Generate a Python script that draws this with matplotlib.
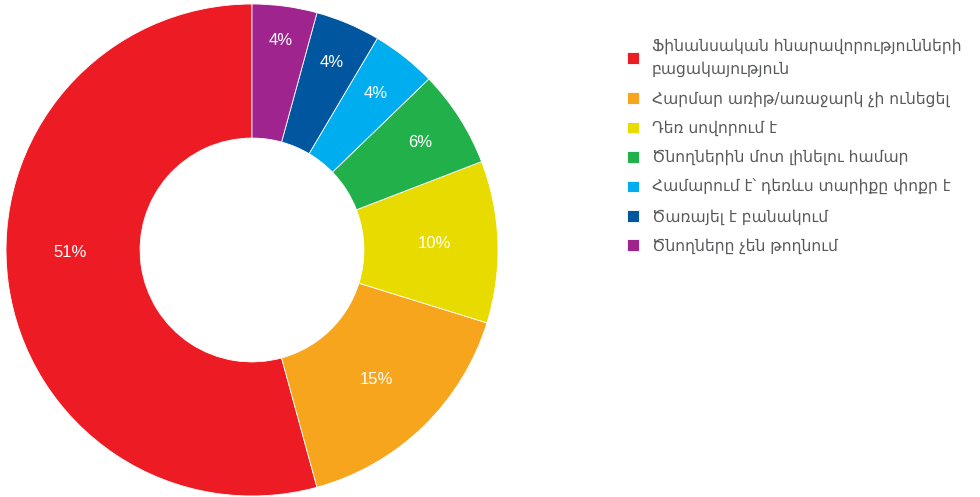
import numpy as np
import matplotlib.pyplot as plt

labels = ['Ֆինանսական հնարավորությունների\nբացակայություն',
          'Հարմար առիթ/առաջարկ չի ունեցել',
          'Դեռ սովորում է',
          'Ծնողներին մոտ լինելու համար',
          'Համարում է՝ դեռևս տարիքը փոքր է',
          'Ծառայել է բանակում',
          'Ծնողները չեն թողնում']
values = [51, 15, 10, 6, 4, 4, 4]
colors = ['#ED1C24', '#F7A51D', '#E8DB00', '#22B04B', '#00AEEF', '#0057A0', '#A0248E']

# label placement tweaks (radius in pie units, angle shift in degrees)
lab_r = [0.74, 0.73, 0.74, 0.81, 0.81, 0.83, 0.86]
lab_shift = [-7, 0, 0, 0, 0, 0, 0]

plt.rcParams['font.family'] = ['DejaVu Sans']

fig = plt.figure(figsize=(9.8, 4.97), dpi=100)
ax = fig.add_axes([6/980, 1/497, 492/980, 492/497])

wedges, texts = ax.pie(
    values, colors=colors, startangle=90, counterclock=True, radius=1.0,
    wedgeprops=dict(width=0.545, edgecolor='white', linewidth=0.6))
for w, v, r, s in zip(wedges, values, lab_r, lab_shift):
    a = np.deg2rad((w.theta1 + w.theta2) / 2 + s)
    ax.text(r * np.cos(a), r * np.sin(a), f'{v}%', color='white', fontsize=12,
            family='Liberation Sans', ha='center', va='center')
ax.set_aspect('equal')
ax.set_xlim(-1, 1)
ax.set_ylim(-1, 1)
ax.axis('off')

leg = fig.legend(wedges, labels, loc='upper left', bbox_to_anchor=(613/980, 1 - 24/497),
                 frameon=False, fontsize=11.2, handlelength=0.78, handleheight=0.78,
                 handletextpad=0.8, labelspacing=0.88, labelcolor='#58595B')
for t in leg.get_texts():
    t.set_linespacing(1.65)

fig.savefig('out.png', dpi=100)
